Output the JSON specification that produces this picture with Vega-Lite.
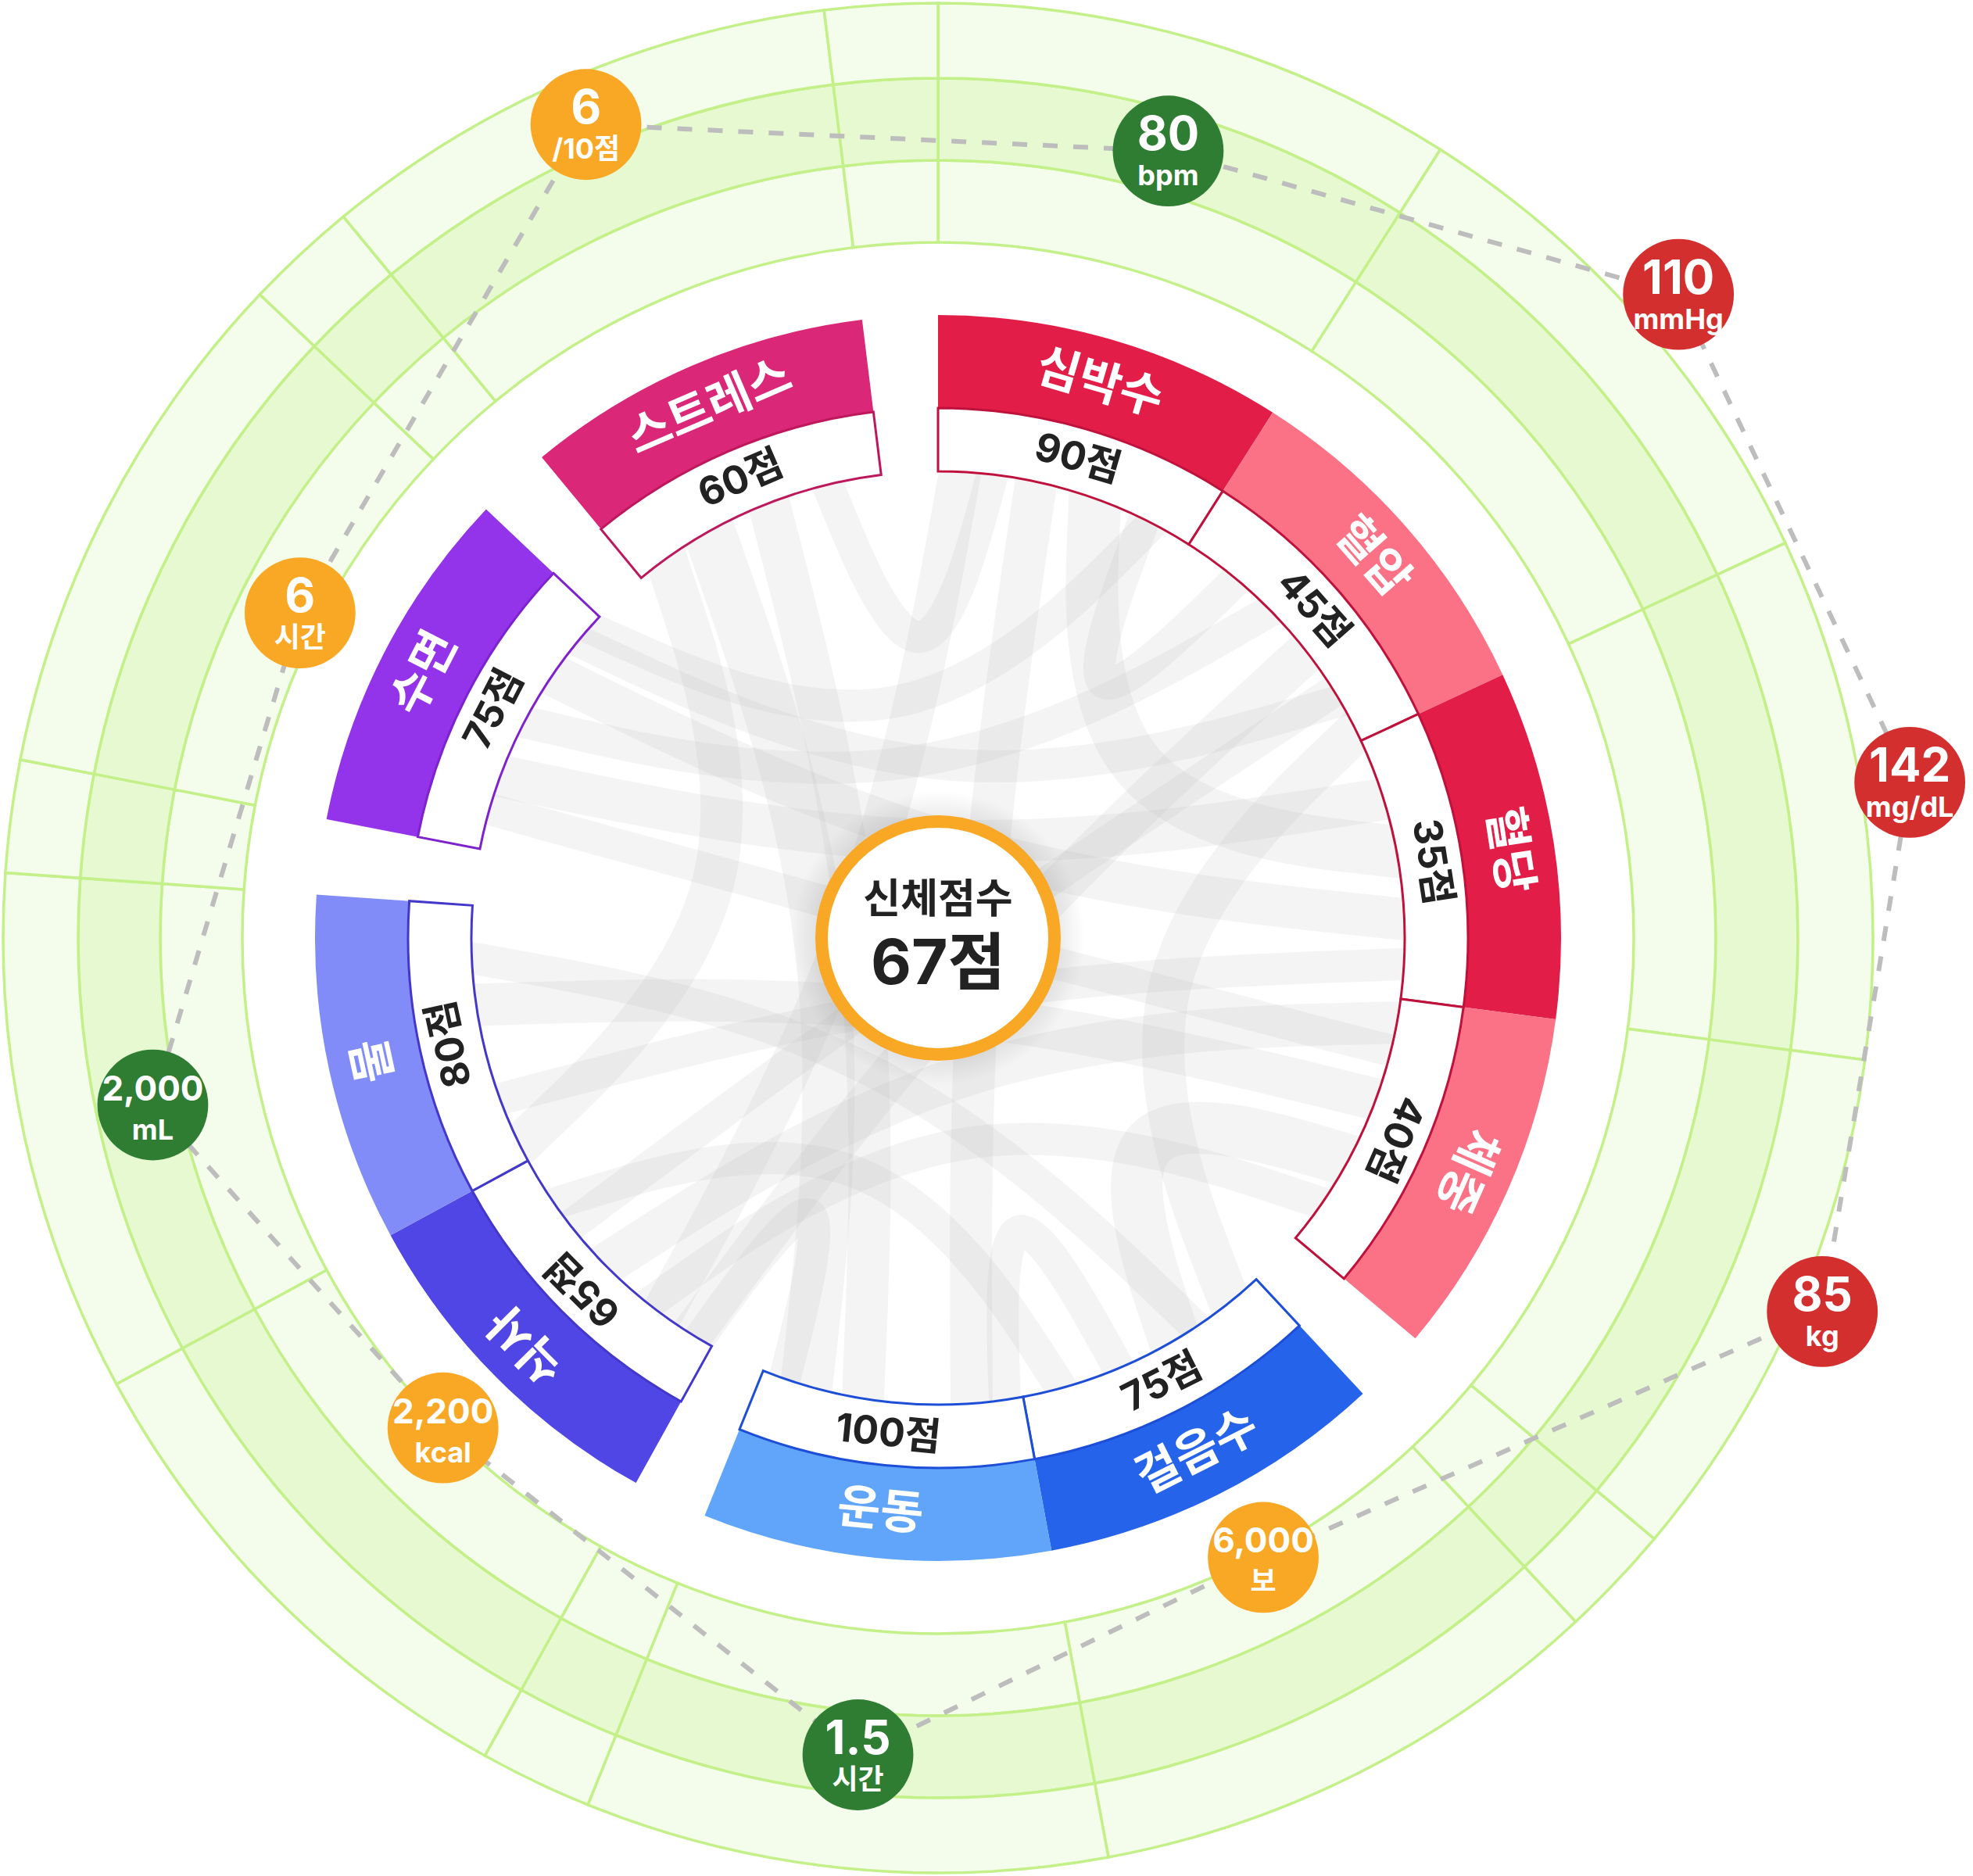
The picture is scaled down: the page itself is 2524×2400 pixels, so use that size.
{
  "$schema": "https://vega.github.io/schema/vega-lite/v6.json",
  "width": 2400,
  "height": 2400,
  "autosize": {"type": "none"},
  "padding": {"left": 0, "top": 0, "right": 124, "bottom": 0},
  "background": "#ffffff",
  "config": {"view": {"stroke": null}},
  "datasets": {
    "sectors": [
      {"start": 0, "end": 32.5, "kind": "cat"},
      {"start": 32.5, "end": 65, "kind": "cat"},
      {"start": 65, "end": 97.5, "kind": "cat"},
      {"start": 97.5, "end": 130, "kind": "cat"},
      {"start": 130, "end": 137, "kind": "gap"},
      {"start": 137, "end": 169.5, "kind": "cat"},
      {"start": 169.5, "end": 202, "kind": "cat"},
      {"start": 202, "end": 209, "kind": "gap"},
      {"start": 209, "end": 241.5, "kind": "cat"},
      {"start": 241.5, "end": 274, "kind": "cat"},
      {"start": 274, "end": 281, "kind": "gap"},
      {"start": 281, "end": 313.5, "kind": "cat"},
      {"start": 313.5, "end": 320.5, "kind": "gap"},
      {"start": 320.5, "end": 353, "kind": "cat"},
      {"start": 353, "end": 360, "kind": "gap"}
    ],
    "categories": [
      {"name": "심박수", "score": 90, "group": "body", "start": 0, "end": 32.5},
      {"name": "혈압", "score": 45, "group": "body", "start": 32.5, "end": 65},
      {"name": "혈당", "score": 35, "group": "body", "start": 65, "end": 97.5},
      {"name": "체중", "score": 40, "group": "body", "start": 97.5, "end": 130},
      {"name": "걸음수", "score": 75, "group": "activity", "start": 137, "end": 169.5},
      {"name": "운동", "score": 100, "group": "activity", "start": 169.5, "end": 202},
      {"name": "식사", "score": 65, "group": "nutrition", "start": 209, "end": 241.5},
      {"name": "물", "score": 80, "group": "nutrition", "start": 241.5, "end": 274},
      {"name": "수면", "score": 75, "group": "sleep", "start": 281, "end": 313.5},
      {"name": "스트레스", "score": 60, "group": "stress", "start": 320.5, "end": 353}
    ],
    "metrics": [
      {"metric": "스트레스", "seq": 0, "angle": 336.6, "level": 1134, "value": "6", "unit": "/10점", "status": "caution"},
      {"metric": "심박수", "seq": 1, "angle": 16.3, "level": 1049, "value": "80", "unit": "bpm", "status": "good"},
      {"metric": "혈압", "seq": 2, "angle": 49.0, "level": 1255, "value": "110", "unit": "mmHg", "status": "alert"},
      {"metric": "혈당", "seq": 3, "angle": 80.9, "level": 1259, "value": "142", "unit": "mg/dL", "status": "alert"},
      {"metric": "체중", "seq": 4, "angle": 112.9, "level": 1228, "value": "85", "unit": "kg", "status": "alert"},
      {"metric": "걸음수", "seq": 5, "angle": 152.3, "level": 895, "value": "6,000", "unit": "보", "status": "caution"},
      {"metric": "운동", "seq": 6, "angle": 185.6, "level": 1050, "value": "1.5", "unit": "시간", "status": "good"},
      {"metric": "식사", "seq": 7, "angle": 225.3, "level": 891, "value": "2,200", "unit": "kcal", "status": "caution"},
      {"metric": "물", "seq": 8, "angle": 258.0, "level": 1027, "value": "2,000", "unit": "mL", "status": "good"},
      {"metric": "수면", "seq": 9, "angle": 297.0, "level": 916, "value": "6", "unit": "시간", "status": "caution"}
    ],
    "summary": [{"title": "신체점수", "total": 67}],
    "chords": [
      {"c": 1, "p": 0, "ang": 331, "r": 620, "w": 4}, {"c": 1, "p": 1, "ang": 0, "r": 0, "w": 4}, {"c": 1, "p": 2, "ang": 196, "r": 620, "w": 4},
      {"c": 2, "p": 0, "ang": 339, "r": 620, "w": 3}, {"c": 2, "p": 1, "ang": 0, "r": 0, "w": 3}, {"c": 2, "p": 2, "ang": 189, "r": 620, "w": 3},
      {"c": 3, "p": 0, "ang": 325, "r": 620, "w": 3}, {"c": 3, "p": 1, "ang": 0, "r": 0, "w": 3}, {"c": 3, "p": 2, "ang": 243, "r": 620, "w": 3},
      {"c": 4, "p": 0, "ang": 346, "r": 620, "w": 2}, {"c": 4, "p": 1, "ang": 0, "r": 0, "w": 2}, {"c": 4, "p": 2, "ang": 7, "r": 620, "w": 2},
      {"c": 5, "p": 0, "ang": 12, "r": 620, "w": 3}, {"c": 5, "p": 1, "ang": 0, "r": 0, "w": 3}, {"c": 5, "p": 2, "ang": 176, "r": 620, "w": 3},
      {"c": 6, "p": 0, "ang": 19, "r": 620, "w": 4}, {"c": 6, "p": 1, "ang": 0, "r": 0, "w": 4}, {"c": 6, "p": 2, "ang": 80, "r": 620, "w": 4},
      {"c": 7, "p": 0, "ang": 26, "r": 620, "w": 2}, {"c": 7, "p": 1, "ang": 0, "r": 0, "w": 2}, {"c": 7, "p": 2, "ang": 40, "r": 620, "w": 2},
      {"c": 8, "p": 0, "ang": 3, "r": 620, "w": 3}, {"c": 8, "p": 1, "ang": 0, "r": 0, "w": 3}, {"c": 8, "p": 2, "ang": 216, "r": 620, "w": 3},
      {"c": 9, "p": 0, "ang": 52, "r": 620, "w": 3}, {"c": 9, "p": 1, "ang": 0, "r": 0, "w": 3}, {"c": 9, "p": 2, "ang": 212, "r": 620, "w": 3},
      {"c": 10, "p": 0, "ang": 58, "r": 620, "w": 2}, {"c": 10, "p": 1, "ang": 0, "r": 0, "w": 2}, {"c": 10, "p": 2, "ang": 232, "r": 620, "w": 2},
      {"c": 11, "p": 0, "ang": 290, "r": 620, "w": 3}, {"c": 11, "p": 1, "ang": 0, "r": 0, "w": 3}, {"c": 11, "p": 2, "ang": 73, "r": 620, "w": 3},
      {"c": 12, "p": 0, "ang": 297, "r": 620, "w": 2}, {"c": 12, "p": 1, "ang": 0, "r": 0, "w": 2}, {"c": 12, "p": 2, "ang": 46, "r": 620, "w": 2},
      {"c": 13, "p": 0, "ang": 304, "r": 620, "w": 3}, {"c": 13, "p": 1, "ang": 0, "r": 0, "w": 3}, {"c": 13, "p": 2, "ang": 88, "r": 620, "w": 3},
      {"c": 14, "p": 0, "ang": 286, "r": 620, "w": 2}, {"c": 14, "p": 1, "ang": 0, "r": 0, "w": 2}, {"c": 14, "p": 2, "ang": 104, "r": 620, "w": 2},
      {"c": 15, "p": 0, "ang": 309, "r": 620, "w": 2}, {"c": 15, "p": 1, "ang": 0, "r": 0, "w": 2}, {"c": 15, "p": 2, "ang": 60, "r": 620, "w": 2},
      {"c": 16, "p": 0, "ang": 262, "r": 620, "w": 3}, {"c": 16, "p": 1, "ang": 0, "r": 0, "w": 3}, {"c": 16, "p": 2, "ang": 110, "r": 620, "w": 3},
      {"c": 17, "p": 0, "ang": 250, "r": 620, "w": 2}, {"c": 17, "p": 1, "ang": 0, "r": 0, "w": 2}, {"c": 17, "p": 2, "ang": 93, "r": 620, "w": 2},
      {"c": 18, "p": 0, "ang": 226, "r": 620, "w": 3}, {"c": 18, "p": 1, "ang": 0, "r": 0, "w": 3}, {"c": 18, "p": 2, "ang": 100, "r": 620, "w": 3},
      {"c": 19, "p": 0, "ang": 219, "r": 620, "w": 2}, {"c": 19, "p": 1, "ang": 0, "r": 0, "w": 2}, {"c": 19, "p": 2, "ang": 124, "r": 620, "w": 2},
      {"c": 20, "p": 0, "ang": 150, "r": 620, "w": 4}, {"c": 20, "p": 1, "ang": 0, "r": 0, "w": 4}, {"c": 20, "p": 2, "ang": 118, "r": 620, "w": 4},
      {"c": 21, "p": 0, "ang": 172, "r": 620, "w": 2}, {"c": 21, "p": 1, "ang": 0, "r": 0, "w": 2}, {"c": 21, "p": 2, "ang": 157, "r": 620, "w": 2},
      {"c": 22, "p": 0, "ang": 211, "r": 620, "w": 2}, {"c": 22, "p": 1, "ang": 0, "r": 0, "w": 2}, {"c": 22, "p": 2, "ang": 199, "r": 620, "w": 2},
      {"c": 23, "p": 0, "ang": 142, "r": 620, "w": 3}, {"c": 23, "p": 1, "ang": 0, "r": 0, "w": 3}, {"c": 23, "p": 2, "ang": 63, "r": 620, "w": 3},
      {"c": 24, "p": 0, "ang": 268, "r": 620, "w": 2}, {"c": 24, "p": 1, "ang": 0, "r": 0, "w": 2}, {"c": 24, "p": 2, "ang": 146, "r": 620, "w": 2},
      {"c": 25, "p": 0, "ang": 311, "r": 620, "w": 2}, {"c": 25, "p": 1, "ang": 0, "r": 0, "w": 2}, {"c": 25, "p": 2, "ang": 28, "r": 620, "w": 2},
      {"c": 26, "p": 0, "ang": 236, "r": 620, "w": 2}, {"c": 26, "p": 1, "ang": 0, "r": 0, "w": 2}, {"c": 26, "p": 2, "ang": 164, "r": 620, "w": 2}
    ]
  },
  "resolve": {"scale": {"fill": "independent", "stroke": "independent", "color": "independent", "size": "independent"}},
  "layer": [
    {
      "data": {"name": "sectors"},
      "mark": {"type": "arc", "fill": "#F4FCEC", "stroke": "#C4F089", "strokeWidth": 3.5},
      "encoding": {
        "theta": {"field": "start", "type": "quantitative", "stack": null, "scale": {"type": "linear", "domain": [0, 360], "range": [0, 6.283185307179586], "zero": false, "nice": false}},
        "theta2": {"field": "end"},
        "radius": {"datum": 995, "type": "quantitative", "scale": {"type": "linear", "domain": [0, 1200], "range": [0, 1200], "zero": false, "nice": false}},
        "radius2": {"datum": 890}
      }
    },
    {
      "data": {"name": "sectors"},
      "mark": {"type": "arc", "fill": "#E6F9D1", "stroke": "#C4F089", "strokeWidth": 3.5},
      "encoding": {
        "theta": {"field": "start", "type": "quantitative", "stack": null, "scale": {"type": "linear", "domain": [0, 360], "range": [0, 6.283185307179586], "zero": false, "nice": false}},
        "theta2": {"field": "end"},
        "radius": {"datum": 1100, "type": "quantitative", "scale": {"type": "linear", "domain": [0, 1200], "range": [0, 1200], "zero": false, "nice": false}},
        "radius2": {"datum": 995}
      }
    },
    {
      "data": {"name": "sectors"},
      "mark": {"type": "arc", "fill": "#F4FCEC", "stroke": "#C4F089", "strokeWidth": 3.5},
      "encoding": {
        "theta": {"field": "start", "type": "quantitative", "stack": null, "scale": {"type": "linear", "domain": [0, 360], "range": [0, 6.283185307179586], "zero": false, "nice": false}},
        "theta2": {"field": "end"},
        "radius": {"datum": 1196, "type": "quantitative", "scale": {"type": "linear", "domain": [0, 1200], "range": [0, 1200], "zero": false, "nice": false}},
        "radius2": {"datum": 1100}
      }
    },
    {
      "data": {"name": "chords"},
      "transform": [
        {"calculate": "datum.r * sin(datum.ang * PI / 180)", "as": "x"},
        {"calculate": "datum.r * cos(datum.ang * PI / 180)", "as": "y"}
      ],
      "mark": {"type": "line", "interpolate": "bundle", "tension": 0.55, "color": "#BDBDBD", "strokeOpacity": 0.16, "strokeCap": "butt"},
      "encoding": {
        "x": {"field": "x", "type": "quantitative", "scale": {"domain": [-1200, 1200], "nice": false, "zero": false}, "axis": null},
        "y": {"field": "y", "type": "quantitative", "scale": {"domain": [-1200, 1200], "nice": false, "zero": false}, "axis": null},
        "detail": {"field": "c", "type": "nominal"},
        "order": {"field": "p", "type": "quantitative"},
        "size": {"field": "w", "type": "quantitative", "scale": {"domain": [1, 5], "range": [28, 80]}, "legend": null}
      }
    },
    {
      "data": {"name": "metrics"},
      "transform": [
        {"calculate": "datum.level * sin(datum.angle * PI / 180)", "as": "x"},
        {"calculate": "datum.level * cos(datum.angle * PI / 180)", "as": "y"}
      ],
      "mark": {"type": "line", "interpolate": "linear-closed", "color": "#BDBDBD", "strokeWidth": 6, "strokeDash": [19, 20]},
      "encoding": {
        "x": {"field": "x", "type": "quantitative", "scale": {"domain": [-1200, 1200], "nice": false, "zero": false}, "axis": null},
        "y": {"field": "y", "type": "quantitative", "scale": {"domain": [-1200, 1200], "nice": false, "zero": false}, "axis": null},
        "order": {"field": "seq", "type": "quantitative"}
      }
    },
    {
      "data": {"name": "sectors"},
      "transform": [{"filter": "datum.kind == 'gap'"}],
      "mark": {"type": "arc", "fill": "#ffffff", "cornerRadius": 36},
      "encoding": {
        "theta": {"field": "start", "type": "quantitative", "stack": null, "scale": {"type": "linear", "domain": [0, 360], "range": [0, 6.283185307179586], "zero": false, "nice": false}},
        "theta2": {"field": "end"},
        "radius": {"datum": 800, "type": "quantitative", "scale": {"type": "linear", "domain": [0, 1200], "range": [0, 1200], "zero": false, "nice": false}},
        "radius2": {"datum": 576}
      }
    },
    {
      "data": {"name": "categories"},
      "mark": {"type": "arc"},
      "encoding": {
        "theta": {"field": "start", "type": "quantitative", "stack": null, "scale": {"type": "linear", "domain": [0, 360], "range": [0, 6.283185307179586], "zero": false, "nice": false}},
        "theta2": {"field": "end"},
        "radius": {"datum": 797, "type": "quantitative", "scale": {"type": "linear", "domain": [0, 1200], "range": [0, 1200], "zero": false, "nice": false}},
        "radius2": {"datum": 678},
        "fill": {"field": "name", "type": "nominal", "legend": null, "scale": {"domain": ["심박수", "혈압", "혈당", "체중", "걸음수", "운동", "식사", "물", "수면", "스트레스"], "range": ["#E11D48", "#FB7185", "#E11D48", "#FB7185", "#2563EB", "#60A5FA", "#4F46E5", "#818CF8", "#9333EA", "#DB2777"]}}
      }
    },
    {
      "data": {"name": "categories"},
      "mark": {"type": "arc", "fill": "#ffffff", "strokeWidth": 3},
      "encoding": {
        "theta": {"field": "start", "type": "quantitative", "stack": null, "scale": {"type": "linear", "domain": [0, 360], "range": [0, 6.283185307179586], "zero": false, "nice": false}},
        "theta2": {"field": "end"},
        "radius": {"datum": 678, "type": "quantitative", "scale": {"type": "linear", "domain": [0, 1200], "range": [0, 1200], "zero": false, "nice": false}},
        "radius2": {"datum": 597},
        "stroke": {"field": "group", "type": "nominal", "legend": null, "scale": {"domain": ["body", "activity", "nutrition", "sleep", "stress"], "range": ["#BE123C", "#1D4ED8", "#4338CA", "#7E22CE", "#BE185D"]}}
      }
    },
    {
      "data": {"name": "categories"},
      "transform": [
        {"calculate": "(datum.start + datum.end) / 2", "as": "mid"},
        {"calculate": "datum.mid > 135 && datum.mid < 225 ? datum.mid - 180 : datum.mid", "as": "rot"}
      ],
      "mark": {"type": "text", "font": "Inter, 'Noto Sans CJK KR', sans-serif", "fontSize": 60, "fontWeight": "bold", "fill": "#ffffff", "align": "center", "baseline": "middle"},
      "encoding": {
        "theta": {"field": "mid", "type": "quantitative", "stack": null, "scale": {"type": "linear", "domain": [0, 360], "range": [0, 6.283185307179586], "zero": false, "nice": false}},
        "radius": {"datum": 738, "type": "quantitative", "scale": {"type": "linear", "domain": [0, 1200], "range": [0, 1200], "zero": false, "nice": false}},
        "angle": {"field": "rot", "type": "quantitative", "scale": null},
        "text": {"field": "name", "type": "nominal"}
      }
    },
    {
      "data": {"name": "categories"},
      "transform": [
        {"calculate": "(datum.start + datum.end) / 2", "as": "mid"},
        {"calculate": "datum.mid > 135 && datum.mid < 225 ? datum.mid - 180 : datum.mid", "as": "rot"},
        {"calculate": "datum.score + '점'", "as": "label"}
      ],
      "mark": {"type": "text", "font": "Inter, 'Noto Sans CJK KR', sans-serif", "fontSize": 50, "fontWeight": "bold", "fill": "#222222", "align": "center", "baseline": "middle"},
      "encoding": {
        "theta": {"field": "mid", "type": "quantitative", "stack": null, "scale": {"type": "linear", "domain": [0, 360], "range": [0, 6.283185307179586], "zero": false, "nice": false}},
        "radius": {"datum": 638, "type": "quantitative", "scale": {"type": "linear", "domain": [0, 1200], "range": [0, 1200], "zero": false, "nice": false}},
        "angle": {"field": "rot", "type": "quantitative", "scale": null},
        "text": {"field": "label", "type": "nominal"}
      }
    },
    {
      "data": {"name": "summary"},
      "mark": {"type": "arc", "fill": {"gradient": "radial", "x1": 0.5, "y1": 0.5, "r1": 0, "x2": 0.5, "y2": 0.5, "r2": 0.5, "stops": [{"offset": 0, "color": "rgba(0,0,0,0.10)"}, {"offset": 0.82, "color": "rgba(0,0,0,0.08)"}, {"offset": 1, "color": "rgba(0,0,0,0)"}]}},
      "encoding": {
        "theta": {"datum": 0, "type": "quantitative", "stack": null, "scale": {"type": "linear", "domain": [0, 360], "range": [0, 6.283185307179586], "zero": false, "nice": false}},
        "theta2": {"datum": 360},
        "radius": {"datum": 188, "type": "quantitative", "scale": {"type": "linear", "domain": [0, 1200], "range": [0, 1200], "zero": false, "nice": false}},
        "radius2": {"datum": 0}
      }
    },
    {
      "data": {"name": "summary"},
      "mark": {"type": "arc", "fill": "#ffffff", "stroke": "#F9A825", "strokeWidth": 16},
      "encoding": {
        "theta": {"datum": 0, "type": "quantitative", "stack": null, "scale": {"type": "linear", "domain": [0, 360], "range": [0, 6.283185307179586], "zero": false, "nice": false}},
        "theta2": {"datum": 360},
        "radius": {"datum": 149, "type": "quantitative", "scale": {"type": "linear", "domain": [0, 1200], "range": [0, 1200], "zero": false, "nice": false}},
        "radius2": {"datum": 0}
      }
    },
    {
      "data": {"name": "summary"},
      "mark": {"type": "text", "font": "Inter, 'Noto Sans CJK KR', sans-serif", "fontSize": 52, "fontWeight": "bold", "fill": "#222222", "align": "center", "baseline": "middle", "dy": -48},
      "encoding": {"text": {"field": "title", "type": "nominal"}}
    },
    {
      "data": {"name": "summary"},
      "transform": [{"calculate": "datum.total + '점'", "as": "label"}],
      "mark": {"type": "text", "font": "Inter, 'Noto Sans CJK KR', sans-serif", "fontSize": 80, "fontWeight": "bold", "fill": "#222222", "align": "center", "baseline": "middle", "dy": 35},
      "encoding": {"text": {"field": "label", "type": "nominal"}}
    },
    {
      "data": {"name": "metrics"},
      "transform": [
        {"calculate": "datum.level * sin(datum.angle * PI / 180)", "as": "x"},
        {"calculate": "datum.level * cos(datum.angle * PI / 180)", "as": "y"}
      ],
      "mark": {"type": "point", "filled": true, "shape": "circle", "size": 20106, "opacity": 1, "strokeWidth": 0},
      "encoding": {
        "x": {"field": "x", "type": "quantitative", "scale": {"domain": [-1200, 1200], "nice": false, "zero": false}, "axis": null},
        "y": {"field": "y", "type": "quantitative", "scale": {"domain": [-1200, 1200], "nice": false, "zero": false}, "axis": null},
        "color": {"field": "status", "type": "nominal", "legend": null, "scale": {"domain": ["good", "caution", "alert"], "range": ["#2E7D32", "#F9A825", "#D32F2F"]}}
      }
    },
    {
      "data": {"name": "metrics"},
      "transform": [
        {"calculate": "datum.level * sin(datum.angle * PI / 180)", "as": "x"},
        {"calculate": "datum.level * cos(datum.angle * PI / 180)", "as": "y"}
      ],
      "mark": {"type": "text", "font": "Inter, 'Noto Sans CJK KR', sans-serif", "fontWeight": "bold", "fill": "#ffffff", "align": "center", "baseline": "middle", "dy": -19},
      "encoding": {
        "x": {"field": "x", "type": "quantitative", "scale": {"domain": [-1200, 1200], "nice": false, "zero": false}, "axis": null},
        "y": {"field": "y", "type": "quantitative", "scale": {"domain": [-1200, 1200], "nice": false, "zero": false}, "axis": null},
        "text": {"field": "value", "type": "nominal"},
        "size": {"condition": {"test": "length(datum.value) > 3", "value": 44}, "value": 60}
      }
    },
    {
      "data": {"name": "metrics"},
      "transform": [
        {"calculate": "datum.level * sin(datum.angle * PI / 180)", "as": "x"},
        {"calculate": "datum.level * cos(datum.angle * PI / 180)", "as": "y"}
      ],
      "mark": {"type": "text", "font": "Inter, 'Noto Sans CJK KR', sans-serif", "fontWeight": "bold", "fontSize": 36, "fill": "#ffffff", "align": "center", "baseline": "middle", "dy": 33},
      "encoding": {
        "x": {"field": "x", "type": "quantitative", "scale": {"domain": [-1200, 1200], "nice": false, "zero": false}, "axis": null},
        "y": {"field": "y", "type": "quantitative", "scale": {"domain": [-1200, 1200], "nice": false, "zero": false}, "axis": null},
        "text": {"field": "unit", "type": "nominal"}
      }
    }
  ]
}
